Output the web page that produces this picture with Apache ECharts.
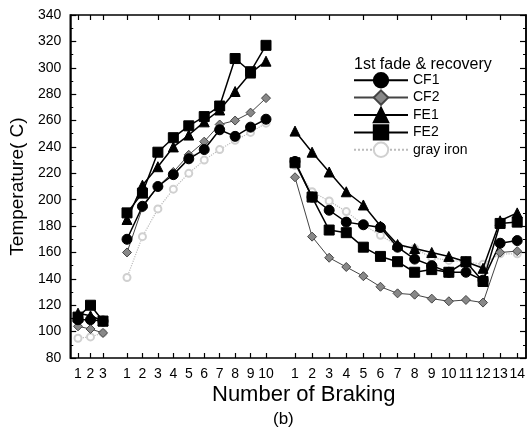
<!DOCTYPE html>
<html>
<head>
<meta charset="utf-8">
<script src="https://cdn.jsdelivr.net/npm/echarts@6/dist/echarts.min.js"></script>
<style>
html, body { margin: 0; padding: 0; background: #fff; }
#main { width: 528px; height: 435px; }
</style>
</head>
<body>
<div id="main"></div>
<script>
// categories of the three braking runs
var cats1 = ['1', '2', '3'];
var cats2 = ['1', '2', '3', '4', '5', '6', '7', '8', '9', '10'];
var cats3 = ['1', '2', '3', '4', '5', '6', '7', '8', '9', '10', '11', '12', '13', '14'];

// run 1
var cf1Run1 = [109, 109, 108];
var cf2Run1 = [104, 102, 99];
var fe1Run1 = [114, 112, 108];
var fe2Run1 = [111, 120, 108];
var grayRun1 = [95, 96, 99];

// run 2 (fade)
var cf1Run2 = [170, 195, 210, 219, 231, 238, 253, 248, 255, 261];
var cf2Run2 = [160, 194, 210, 221, 234, 244, 257, 260, 266, 277];
var fe1Run2 = [185, 211, 225, 240, 249, 259, 268, 282, 296, 305];
var fe2Run2 = [190, 205, 236, 247, 256, 263, 271, 307, 297, 317];
var grayRun2 = [141, 172, 193, 208, 220, 230, 238, 245, 251, 258];

// run 3 (recovery)
var cf1Run3 = [229, 202, 192, 183, 181, 179, 164, 155, 150, 145, 145, 139, 167, 169];
var cf2Run3 = [217, 172, 156, 149, 142, 134, 129, 128, 125, 123, 124, 122, 160, 161];
var fe1Run3 = [252, 236, 221, 206, 196, 180, 166, 163, 160, 157, 153, 148, 184, 190];
var fe2Run3 = [228, 202, 177, 175, 164, 157, 153, 145, 147, 145, 153, 138, 182, 183];
var grayRun3 = [226, 206, 199, 191, 181, 173, 165, 163, 156, 154, 153, 151, 159, 159];

var yTicks = [80, 340, 20];

var FONT = 'Liberation Sans, Arial, sans-serif';

var styles = {
    'CF1': {symbol: 'circle', symbolSize: 10, color: '#000', line: {color: '#000', width: 1.5}},
    'CF2': {symbol: 'diamond', symbolSize: 9, color: '#888', border: '#444', line: {color: '#444', width: 1}},
    'FE1': {symbol: 'triangle', symbolSize: 10, color: '#000', line: {color: '#000', width: 1.5}},
    'FE2': {symbol: 'rect', symbolSize: 10, color: '#000', line: {color: '#000', width: 1.5}},
    'gray iron': {symbol: 'emptyCircle', symbolSize: 7, color: '#d0d0d0', border: '#bbb', line: {color: '#bbb', width: 1.2, type: 'dotted'}}
};

var runs = [
    {cats: cats1, data: {'gray iron': grayRun1, 'CF2': cf2Run1, 'FE1': fe1Run1, 'CF1': cf1Run1, 'FE2': fe2Run1}},
    {cats: cats2, data: {'gray iron': grayRun2, 'CF2': cf2Run2, 'FE1': fe1Run2, 'CF1': cf1Run2, 'FE2': fe2Run2}},
    {cats: cats3, data: {'gray iron': grayRun3, 'CF2': cf2Run3, 'FE1': fe1Run3, 'CF1': cf1Run3, 'FE2': fe2Run3}}
];

var gridPos = [
    {left: 78, width: 25},
    {left: 127, width: 139},
    {left: 295, width: 227}
];

var grids = [{left: 67, right: 2, top: 15, bottom: 77, show: true, borderColor: '#000', borderWidth: 1.5}];
var xAxes = [{gridIndex: 0, type: 'value', min: 0, max: 1, show: false}];
var yAxes = [
    {
        gridIndex: 0, type: 'value', min: yTicks[0], max: yTicks[1], interval: yTicks[2],
        axisLine: {show: true, lineStyle: {color: '#000', width: 1.5}},
        axisTick: {inside: true, length: 6, lineStyle: {color: '#000', width: 1.2}},
        minorTick: {show: true, splitNumber: 2, length: 3, lineStyle: {color: '#000', width: 1}},
        axisLabel: {color: '#000', fontSize: 14, fontFamily: FONT, margin: 9},
        splitLine: {show: false},
        name: 'Temperature( C)', nameLocation: 'middle', nameGap: 38,
        nameTextStyle: {color: '#000', fontSize: 19, fontFamily: FONT}
    },
    {
        gridIndex: 0, type: 'value', position: 'right', min: yTicks[0], max: yTicks[1], interval: yTicks[2],
        axisLine: {show: true, lineStyle: {color: '#000', width: 1.5}},
        axisTick: {inside: true, length: 6, lineStyle: {color: '#000', width: 1.2}},
        minorTick: {show: true, splitNumber: 2, length: 3, lineStyle: {color: '#000', width: 1}},
        axisLabel: {show: false},
        splitLine: {show: false}
    }
];
var series = [];

runs.forEach(function (run, i) {
    var g = i + 1;
    grids.push({left: gridPos[i].left, width: gridPos[i].width, top: 15, bottom: 77});
    var xi = xAxes.length;
    xAxes.push({
        gridIndex: g, type: 'category', data: run.cats, boundaryGap: false,
        axisLine: {show: false},
        axisTick: {inside: true, length: 5, lineStyle: {color: '#000', width: 1.2}},
        axisLabel: {color: '#000', fontSize: 14, fontFamily: FONT, margin: 9, interval: 0},
        splitLine: {show: false}
    });
    xAxes.push({
        gridIndex: g, type: 'category', data: run.cats, boundaryGap: false, position: 'top',
        axisLine: {show: false},
        axisTick: {inside: true, length: 5, lineStyle: {color: '#000', width: 1.2}},
        axisLabel: {show: false},
        splitLine: {show: false}
    });
    var yi = yAxes.length;
    yAxes.push({gridIndex: g, type: 'value', min: yTicks[0], max: yTicks[1], show: false});
    Object.keys(run.data).forEach(function (name) {
        var s = styles[name];
        series.push({
            name: name,
            type: 'line',
            xAxisIndex: xi,
            yAxisIndex: yi,
            data: run.data[name],
            symbol: s.symbol,
            symbolSize: s.symbolSize,
            showAllSymbol: true,
            itemStyle: {color: s.color, borderColor: s.border || s.color, borderWidth: 1},
            lineStyle: s.line,
            animation: false,
            z: name === 'gray iron' ? 2 : 3
        });
    });
});

var myChart = echarts.init(document.getElementById('main'));
var option = {
    backgroundColor: '#fff',
    animation: false,
    title: {
        text: '1st fade & recovery',
        left: 349, top: 52,
        textStyle: {color: '#000', fontSize: 16, fontWeight: 'normal', fontFamily: FONT}
    },
    legend: {
        data: ['CF1', 'CF2', 'FE1', 'FE2', 'gray iron'],
        orient: 'vertical',
        left: 348, top: 67,
        itemWidth: 54, itemHeight: 18, itemGap: 1,
        textStyle: {color: '#000', fontSize: 14, fontFamily: FONT}
    },
    grid: grids,
    xAxis: xAxes,
    yAxis: yAxes,
    series: series,
    graphic: [
        {type: 'text', left: 212, top: 384, style: {text: 'Number of Braking', font: '22px ' + FONT, fill: '#000'}},
        {type: 'text', left: 273, top: 411, style: {text: '(b)', font: '17px ' + FONT, fill: '#000'}}
    ]
};
myChart.setOption(option);
</script>
</body>
</html>
